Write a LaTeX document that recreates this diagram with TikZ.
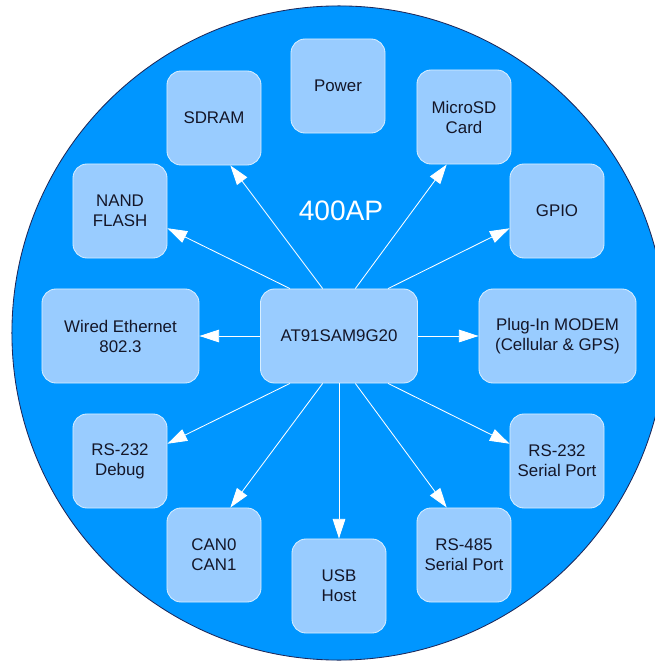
\documentclass[tikz,border=0pt]{standalone}
\usepackage{fontspec}
\setmainfont{Liberation Sans}
\usetikzlibrary{arrows.meta}
\definecolor{disc}{RGB}{0,150,255}
\definecolor{rim}{RGB}{30,40,90}
\definecolor{blkfill}{RGB}{153,204,255}
\definecolor{blkline}{RGB}{215,238,255}
\definecolor{ink}{RGB}{20,22,40}
\begin{document}
\begin{tikzpicture}[
        x=0.025cm, y=-0.025cm,
        blk/.style={rectangle,rounded corners=0.35cm,draw=blkline,line width=0.6pt,fill=blkfill,
            minimum width=2.35cm,minimum height=2.35cm,align=center,text=ink,
            font=\fontsize{12}{14.2}\selectfont},
        wblk/.style={blk,minimum width=3.925cm},
        link/.style={draw=white,line width=0.6pt,-{Triangle[length=14pt,width=9pt,fill=white]}}
        ]
        \useasboundingbox (0,0) rectangle (655,663);
        \fill[disc] (339,333) circle (8.175cm);
        \draw[rim,line width=0.6pt] (339,333) circle (8.175cm);
        \node (title) at (341,211) [text=white,font=\fontsize{20}{24}\selectfont] {400AP};
        \node (power) [blk] at (338,86) {Power};
        \node (sdram) [blk] at (214,118) {SDRAM};
        \node (microsd) [blk] at (464,117) {MicroSD\\Card};
        \node (nand) [blk] at (120,211) {NAND\\FLASH};
        \node (gpio) [blk] at (557,211) {GPIO};
        \node (ether) [wblk] at (120.5,336) {Wired Ethernet\\802.3};
        \node (mcu) [wblk] at (339,336) {AT91SAM9G20};
        \node (modem) [wblk] at (557.5,336) {Plug-In MODEM\\(Cellular \& GPS)};
        \node (debug) [blk] at (120,461) {RS-232\\Debug};
        \node (serial) [blk] at (557,461) {RS-232\\Serial Port};
        \node (can) [blk] at (214,555) {CAN0\\CAN1};
        \node (rs485) [blk] at (464,555) {RS-485\\Serial Port};
        \node (usb) [blk] at (339,586) {USB\\Host};
        \draw[link] (mcu.136) -- (nand.-20);
        \draw[link] (mcu.109) -- (sdram.-71);
        \draw[link] (mcu.71) -- (microsd.-110);
        \draw[link] (mcu.44) -- (gpio.-160);
        \draw[link] (mcu.west) -- (ether.east);
        \draw[link] (mcu.east) -- (modem.west);
        \draw[link] (mcu.-136) -- (debug.20);
        \draw[link] (mcu.-109) -- (can.71);
        \draw[link] (mcu.south) -- (usb.north);
        \draw[link] (mcu.-71) -- (rs485.110);
        \draw[link] (mcu.-44) -- (serial.160);
\end{tikzpicture}
\end{document}
